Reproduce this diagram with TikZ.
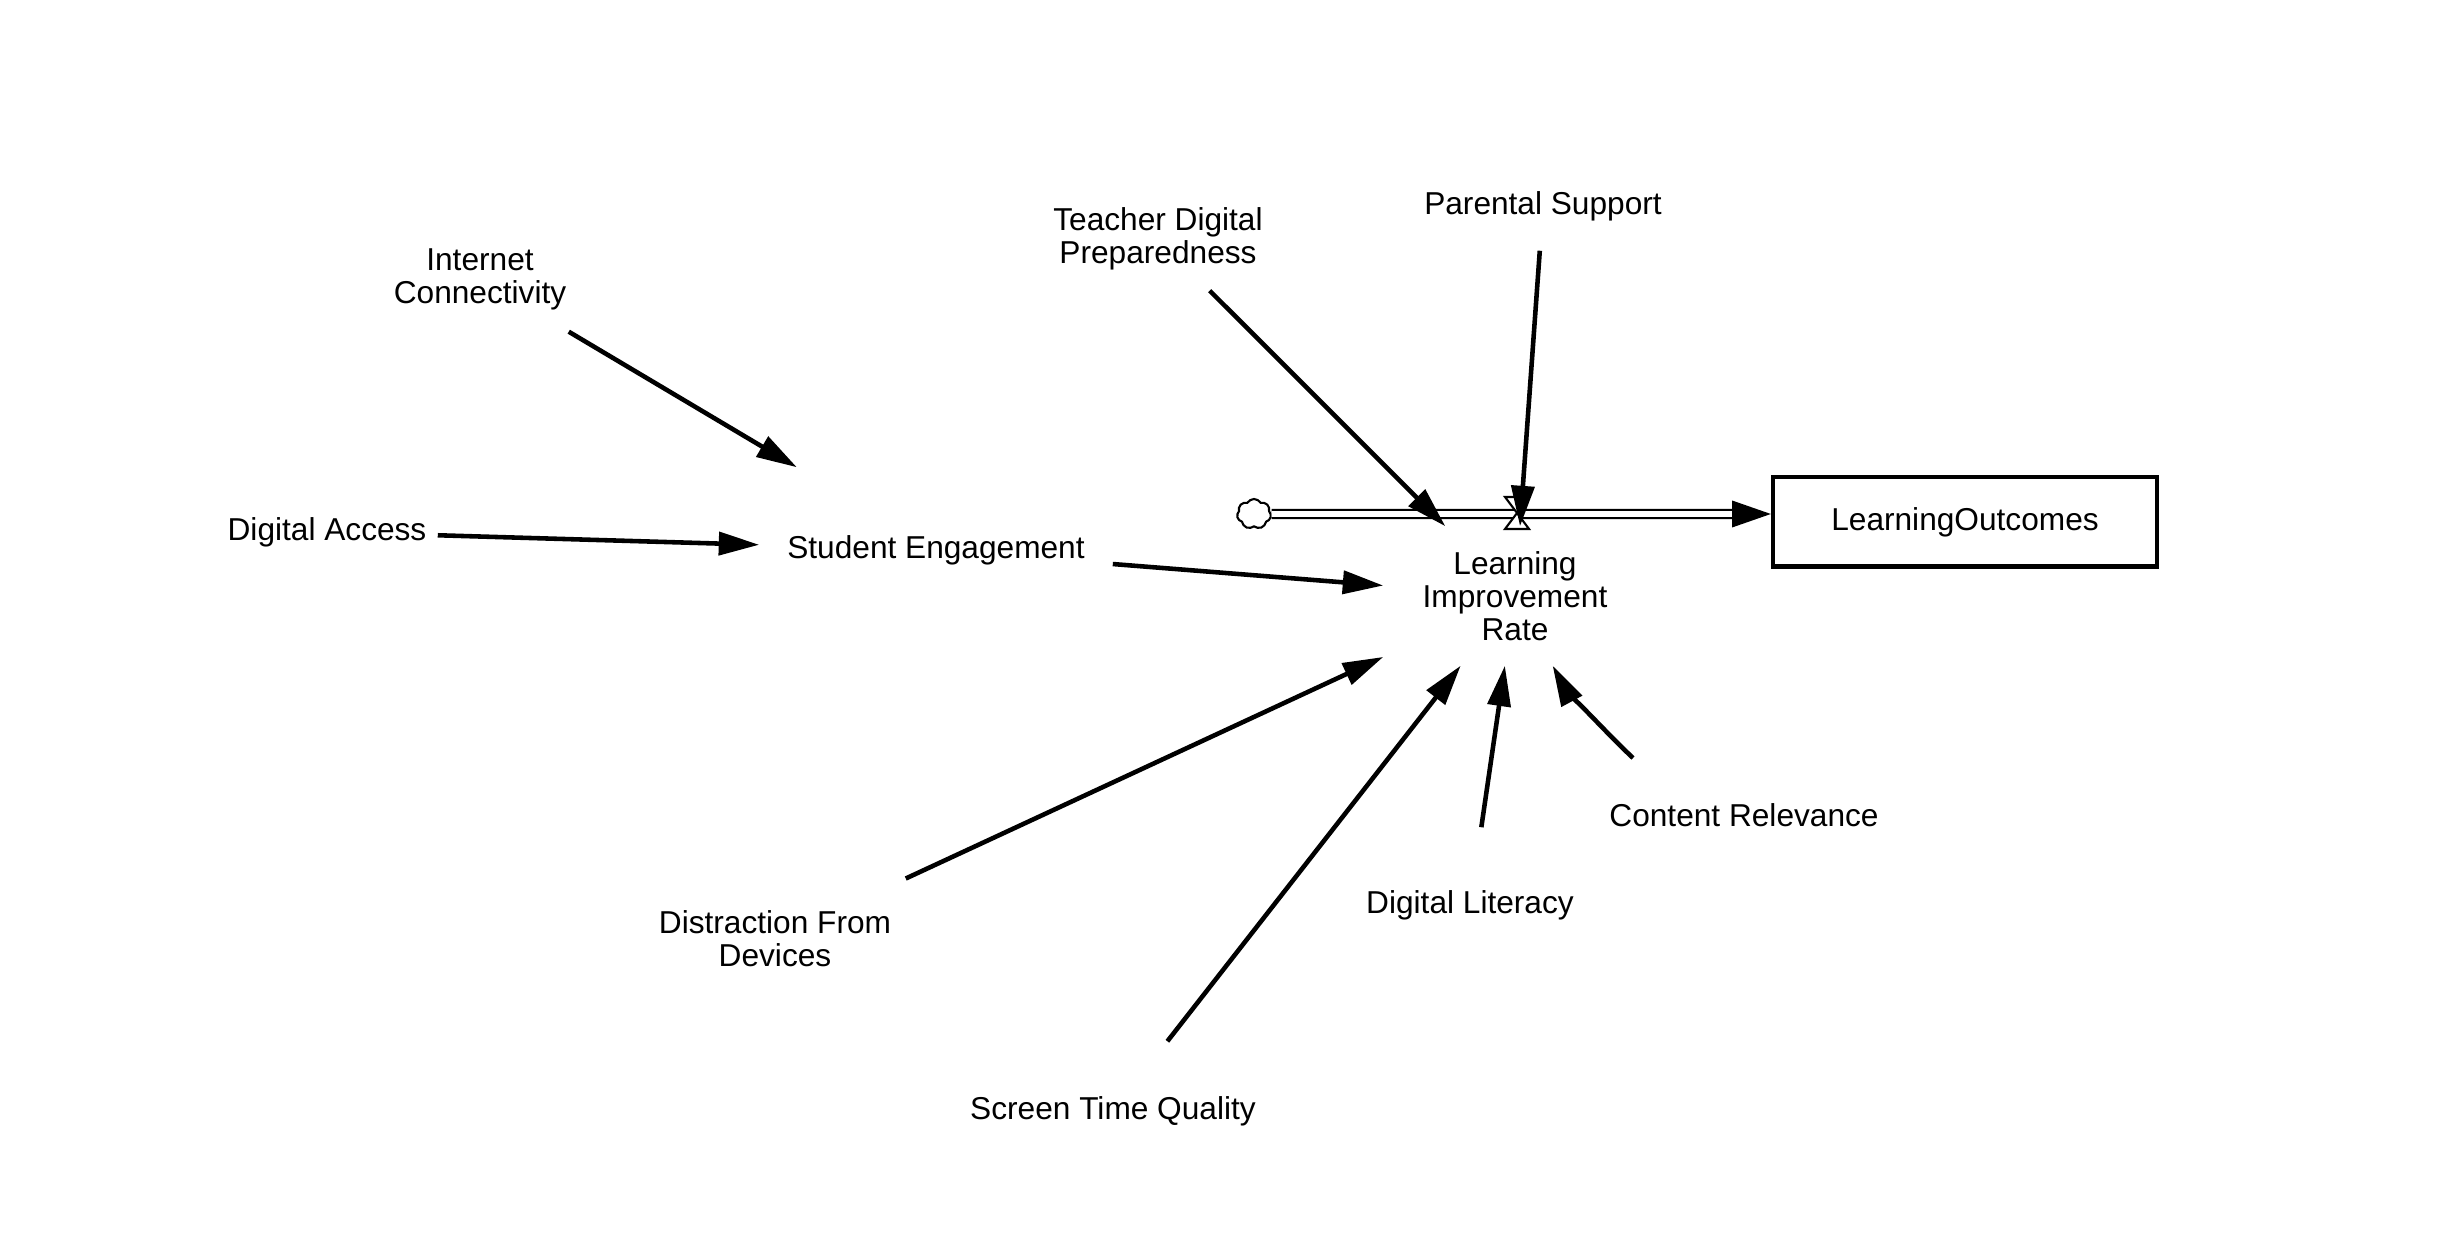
\documentclass[tikz,border=0pt]{standalone}
\usepackage{fontspec}
\setmainfont{Liberation Sans}
\usepackage{tikz}
\usetikzlibrary{calc}
\usetikzlibrary{arrows.meta}
\usetikzlibrary{shapes.symbols}

\begin{document}
\begin{tikzpicture}[x=0.01cm,y=-0.01cm,
  var/.style={inner sep=0pt,align=center,font=\fontsize{9}{9.4}\selectfont},
  link/.style={line width=\lw,-{Triangle[length=11.5pt,width=6.5pt]}},
  stockbox/.style={draw,line width=1.15pt,inner sep=0pt,font=\fontsize{9}{9.4}\selectfont},
  pipe/.style={draw,line width=0.6pt,double=white,double distance=1.7pt},
  flowtip/.style={line width=0.6pt,-{Triangle[length=11pt,width=7.5pt]}},
  valvebox/.style={draw,fill=white,line width=0.6pt}]

\def\lw{1.3pt}
\def\vw{12}
\def\vh{16}

\useasboundingbox (0,0) rectangle (2454,1234);

\node[var,minimum width=1.76cm,minimum height=1.1cm]  (ic)  at (480,279)  {Internet\\Connectivity};
\node[var,minimum width=2.2cm]                        (da)  at (327,532)  {Digital Access};
\node[var,minimum width=3.52cm,minimum height=1.64cm] (se)  at (936,550)  {Student Engagement};
\node[var,minimum width=2.2cm,minimum height=1.02cm]  (tdp) at (1158,239) {Teacher Digital\\Preparedness};
\node[var,minimum height=0.88cm]                      (ps)  at (1543,206) {Parental Support};
\node[var,minimum width=2.62cm,minimum height=1.38cm] (lir) at (1515,596) {Learning\\Improvement\\Rate};
\node[var,minimum width=2.6cm,minimum height=1.3cm]   (dfd) at (775,939)  {Distraction From\\Devices};
\node[var,minimum height=1.38cm]                      (stq) at (1113,1111) {Screen Time Quality};
\node[var,minimum height=1.54cm]                      (dl)  at (1470,905) {Digital Literacy};
\node[var]                                            (cr)  at (1744,815) {Content Relevance};

\node[stockbox,minimum width=3.84cm,minimum height=0.89cm] (stock) at (1965,522) {LearningOutcomes};
\node[cloud,draw,line width=0.6pt,cloud puffs=7,cloud puff arc=120,aspect=1.1,
      minimum width=0.34cm,minimum height=0.3cm,inner sep=0pt] (src) at (1254,514) {};

\coordinate (inlet) at (stock.west |- src.center);
\coordinate (valve) at (1517,513);

\draw[pipe,shorten >=10pt] (src.east) -- (inlet);
\draw[flowtip] ([xshift=-11pt]inlet) -- (inlet);
\draw[valvebox] ($(valve)+(-\vw,-\vh)$) -- ($(valve)+(\vw,-\vh)$) -- ($(valve)+(-\vw,\vh)$) -- ($(valve)+(\vw,\vh)$) -- cycle;

\draw[link] (ic)  -- (se);
\draw[link] (da)  -- (se);
\draw[link] (se)  -- (lir);
\draw[link] (tdp) -- (lir);
\draw[link] (ps)  -- (lir);
\draw[link] (dfd) -- (lir);
\draw[link] (stq) -- (lir);
\draw[link] (dl)  -- (lir);

\coordinate (crc1) at (1601,728);
\coordinate (crc2) at (1562,683);
\draw[link] ([shift={(-111,-57)}]cr.center) .. controls (crc1) and (crc2) .. (lir);

\end{tikzpicture}
\end{document}
